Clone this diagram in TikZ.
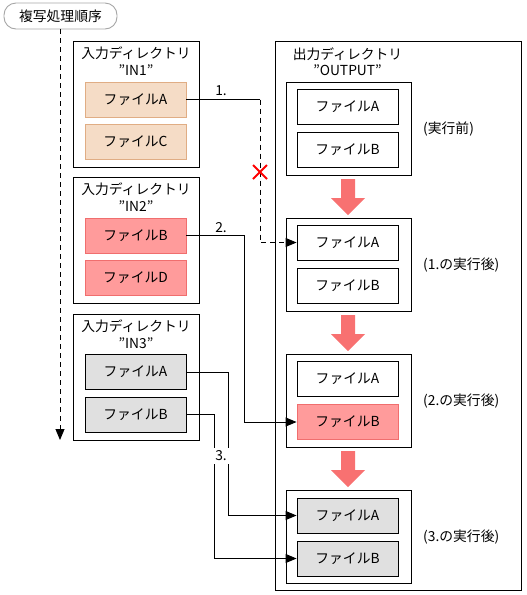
\documentclass[tikz,border=0pt]{standalone}
\usepackage{fontspec}
\setmainfont{Noto Sans CJK JP}
\usetikzlibrary{arrows.meta}
\definecolor{peachf}{HTML}{F5DCC6}
\definecolor{peachd}{HTML}{E0AD84}
\definecolor{redf}{HTML}{FF9B9B}
\definecolor{redd}{HTML}{F06E6E}
\definecolor{grayf}{HTML}{E0E0E0}
\definecolor{bigarrow}{HTML}{F87171}
\tikzset{
  txt/.style={inner sep=0pt, font=\fontsize{13.8}{15}\selectfont},
  dirbox/.style={draw=black, line width=0.9pt, minimum width=126pt, minimum height=126pt, inner sep=0pt},
  outbox/.style={draw=black, line width=0.9pt, minimum width=125pt, minimum height=93pt, inner sep=0pt},
  file/.style={line width=0.9pt, minimum width=101pt, minimum height=35pt, inner sep=0pt, font=\fontsize{13.8}{15}\selectfont},
  peach/.style={file, draw=peachd, fill=peachf},
  redfile/.style={file, draw=redd, fill=redf},
  grayfile/.style={file, draw=black, fill=grayf},
  whitefile/.style={file, draw=black, fill=white},
  conn/.style={line width=0.9pt},
  tip/.style={-{Triangle[length=11pt,width=9pt]}},
}
\begin{document}
\begin{tikzpicture}[x=1pt,y=-1pt]
\useasboundingbox (0,0) rectangle (527,595);
% title pill
\node[draw=gray!70, line width=0.9pt, rounded corners=12pt, minimum width=113pt, minimum height=26pt, inner sep=0pt, font=\fontsize{13.8}{15}\selectfont] (title) at (60.5,16) {複写処理順序};
\coordinate (dend) at (60,440);
\draw[conn, dashed, dash pattern=on 5pt off 4pt, tip] (title.south -| dend) -- (dend);

% input dirs
\node[dirbox] (in1) at (136,104) {};
\node[txt] (in1t) at (136,53) {入力ディレクトリ};
\node[txt] (in1n) at (136,70) {”IN1”};
\node[peach] (in1a) at (135.5,99.5) {ファイルA};
\node[peach] (in1c) at (135.5,141.5) {ファイルC};

\node[dirbox] (in2) at (136,240) {};
\node[txt] (in2t) at (136,189) {入力ディレクトリ};
\node[txt] (in2n) at (136,206) {”IN2”};
\node[redfile] (in2b) at (135.5,235.5) {ファイルB};
\node[redfile] (in2d) at (135.5,277.5) {ファイルD};

\node[dirbox] (in3) at (136,377) {};
\node[txt] (in3t) at (136,326) {入力ディレクトリ};
\node[txt] (in3n) at (136,343) {”IN3”};
\node[grayfile] (in3a) at (135.5,372) {ファイルA};
\node[grayfile] (in3b) at (135.5,414.5) {ファイルB};

% output dir
\node[draw=black, line width=0.9pt, minimum width=246pt, minimum height=549pt, inner sep=0pt] (out) at (398,315.5) {};
\node[txt] (outt) at (347.5,54) {出力ディレクトリ};
\node[txt] (outn) at (347.5,70) {”OUTPUT”};

\node[outbox] (s1) at (348.5,128.5) {};
\node[whitefile] (s1a) at (347.5,106.5) {ファイルA};
\node[whitefile] (s1b) at (347.5,149.5) {ファイルB};
\node[txt, anchor=west] (l1) at (423,129) {(実行前)};

\node[outbox] (s2) at (348.5,264.5) {};
\node[whitefile] (s2a) at (347.5,242.5) {ファイルA};
\node[whitefile] (s2b) at (347.5,285.5) {ファイルB};
\node[txt, anchor=west] (l2) at (423,265) {(1.の実行後)};

\node[outbox] (s3) at (348.5,400.5) {};
\node[whitefile] (s3a) at (347.5,378.5) {ファイルA};
\node[redfile] (s3b) at (347.5,422) {ファイルB};
\node[txt, anchor=west] (l3) at (423,401) {(2.の実行後)};

\node[outbox] (s4) at (348.5,537) {};
\node[grayfile] (s4a) at (347.5,515.5) {ファイルA};
\node[grayfile] (s4b) at (347.5,558.5) {ファイルB};
\node[txt, anchor=west] (l4) at (423,537) {(3.の実行後)};

% big arrows
\foreach \t/\n in {179/a1,315/a2,451/a3}{
  \fill[bigarrow] (341,\t) -- (355,\t) -- (355,\t+19) -- (365,\t+19) -- (348,\t+36) -- (331,\t+19) -- (341,\t+19) -- cycle;
}

% connector 1
\coordinate (c1) at (260,99.5);
\draw[conn] (in1a.east) -- (c1);
\draw[conn, dashed, dash pattern=on 5pt off 4pt, tip] (c1) |- (s2a.west);
\node[txt] (n1) at (221,91) {1.};
\node[inner sep=0pt] (x1) at (260,172) {};
\draw[red, line width=2pt] ([shift={(-7,-7)}]x1.center) -- ([shift={(7,7)}]x1.center);
\draw[red, line width=2pt] ([shift={(-7,7)}]x1.center) -- ([shift={(7,-7)}]x1.center);

% connector 2
\coordinate (c2) at (244,235.5);
\draw[conn, tip] (in2b.east) -- (c2) |- (s3b.west);
\node[txt] (n2) at (221,228) {2.};

% connector 3
\coordinate (c3a) at (228,372);
\coordinate (c3b) at (214,414.5);
\draw[conn, tip] (in3a.east) -- (c3a) |- (s4a.west);
\draw[conn, tip] (in3b.east) -- (c3b) |- (s4b.west);
\node[txt, fill=white, inner sep=3pt] (n3) at (221,456) {3.};
\end{tikzpicture}
\end{document}
